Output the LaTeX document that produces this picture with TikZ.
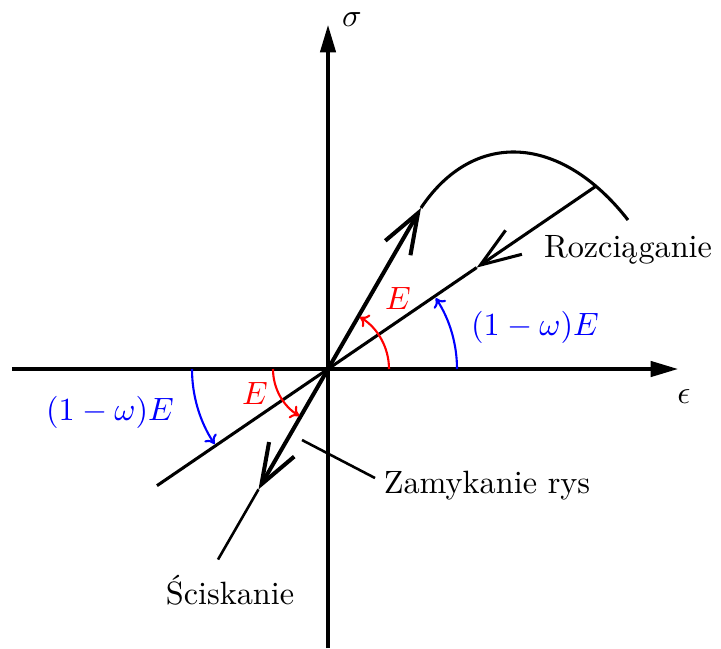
\documentclass[tikz,border=0pt]{standalone}
\usetikzlibrary{arrows.meta,intersections}
\begin{document}
\begin{tikzpicture}[x=0.31pt,y=0.31pt,
  axis/.style={line width=0.95pt,-{Triangle[width=4.8pt,length=8.5pt]}},
  load/.style={line width=1.25pt,-{Straight Barb[length=12.5pt,width=9pt]}},
  secload/.style={line width=0.95pt,-{Straight Barb[length=12.5pt,width=9pt]}},
  plain/.style={line width=0.95pt},
  thinln/.style={line width=0.8pt},
  redarc/.style={red,line width=0.65pt,-{Computer Modern Rightarrow[width=4.5pt,length=2.6pt]}},
  bluearc/.style={blue,line width=0.65pt,-{Computer Modern Rightarrow[width=4.5pt,length=2.6pt]}},
  lab/.style={inner sep=0pt}]
\useasboundingbox (-328,-279) rectangle (393,369);
\coordinate (O) at (0,0);
\coordinate (xl) at (-316,0);
\coordinate (xr) at (350,0);
\coordinate (yb) at (0,-279);
\coordinate (yt) at (0,344);
% axes
\draw[axis] (xl) -- (xr);
\draw[axis] (yb) -- (yt);
\node[lab] (sig) at (24,349) {$\sigma$};
\node[lab] (eps) at (356,-28) {$\epsilon$};
% curve
\coordinate (A) at (60:186);
\coordinate (P) at (300,149);
\draw[plain,name path=curve] (A) .. controls (145,239) and (232,236) .. (P);
\path[name path=ray] (O) -- (34.3:400);
\path[name intersections={of=curve and ray,by=B}];
% loading / compression line
\coordinate (C) at (240:139);
\coordinate (Cend) at (240:220);
\draw[load] (O) -- (A);
\draw[load] (O) -- (C);
\draw[thinln] (C) -- (Cend);
% secant (unloading) line
\coordinate (D) at (34.3:180);
\coordinate (F) at (214.3:207);
\draw[secload] (B) -- (D);
\draw[plain] (D) -- (F);
% angle arcs
\draw[redarc] (O) ++(0:61) arc[start angle=0,end angle=58.5,radius=61];
\draw[bluearc] (O) ++(0:129) arc[start angle=0,end angle=33.3,radius=129];
\draw[redarc] (O) ++(180:55) arc[start angle=180,end angle=238.5,radius=55];
\draw[bluearc] (O) ++(180:136) arc[start angle=180,end angle=213.5,radius=136];
% labels
\node[lab,red] (E1) at (70,71) {$E$};
\node[lab,red] (E2) at (-73,-24) {$E$};
\node[lab,blue] (wE1) at (207,42) {$(1-\omega)E$};
\node[lab,blue] (wE2) at (-218,-43) {$(1-\omega)E$};
\node[lab] (roz) at (300,119) {Rozciąganie};
\node[lab] (zam) at (159,-117) {Zamykanie rys};
\node[lab] (sci) at (-98,-221) {Ściskanie};
\coordinate (z1) at (-26,-71);
\coordinate (z2) at (47,-109);
\draw[thinln] (z1) -- (z2);
\end{tikzpicture}
\end{document}
